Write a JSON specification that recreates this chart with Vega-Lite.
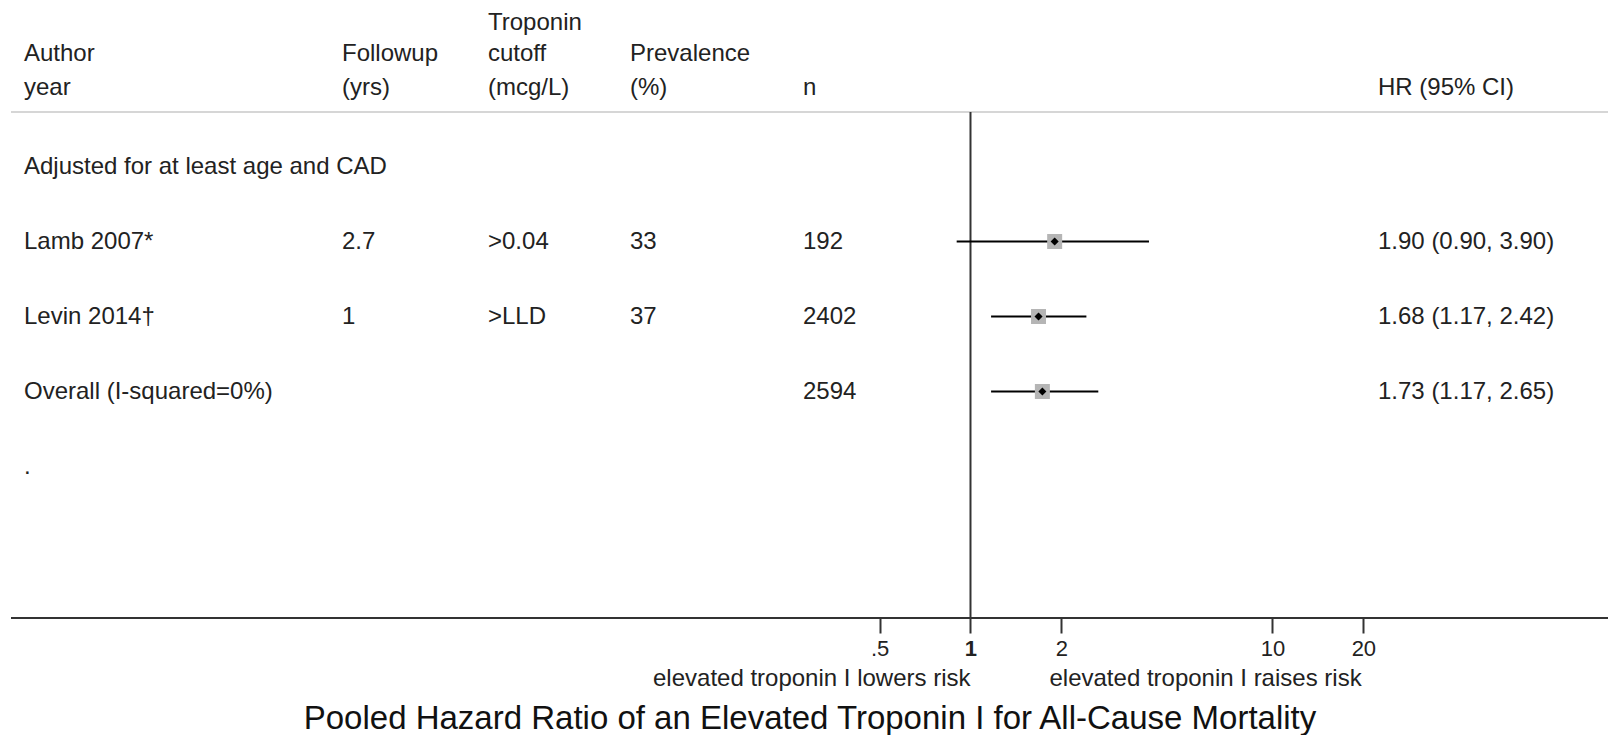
{
  "$schema": "https://vega.github.io/schema/vega-lite/v6.json",
  "padding": {"left": 10, "top": 0, "right": 0, "bottom": 0},
  "background": "white",
  "bounds": "flush",
  "spacing": 0,
  "config": {"view": {"stroke": null}, "font": "Liberation Sans"},
  "title": {"text": "Pooled Hazard Ratio of an Elevated Troponin I for All-Cause Mortality", "orient": "bottom", "anchor": "middle", "fontSize": 33, "fontWeight": "normal", "color": "#111", "offset": 12},
  "datasets": {
    "rows": [
      {"row": 0, "author": "Adjusted for at least age and CAD"},
      {"row": 1, "author": "Lamb 2007*", "followup": "2.7", "cutoff": ">0.04", "prevalence": "33", "n": "192", "hr": 1.90, "lo": 0.90, "hi": 3.90, "hrText": "1.90 (0.90, 3.90)"},
      {"row": 2, "author": "Levin 2014†", "followup": "1", "cutoff": ">LLD", "prevalence": "37", "n": "2402", "hr": 1.68, "lo": 1.17, "hi": 2.42, "hrText": "1.68 (1.17, 2.42)"},
      {"row": 3, "author": "Overall (I-squared=0%)", "n": "2594", "hr": 1.73, "lo": 1.17, "hi": 2.65, "hrText": "1.73 (1.17, 2.65)"},
      {"row": 4, "author": "."}
    ],
    "headers": [
      {"col": "author", "l2": "Author", "l3": "year"},
      {"col": "followup", "l2": "Followup", "l3": "(yrs)"},
      {"col": "cutoff", "l1": "Troponin", "l2": "cutoff", "l3": "(mcg/L)"},
      {"col": "prevalence", "l2": "Prevalence", "l3": "(%)"},
      {"col": "n", "l3": "n"},
      {"col": "hrText", "l3": "HR (95% CI)"}
    ],
    "notes": [
      {"side": "lowers", "text": "elevated troponin I lowers risk"},
      {"side": "raises", "text": "elevated troponin I raises risk"}
    ],
    "one": [{}]
  },
  "hconcat": [
    {
      "width": 331, "height": 618,
      "layer": [
        {"data": {"name": "headers"}, "transform": [{"filter": "datum.col === 'author' && datum.l2 != null"}],
         "mark": {"type": "text", "align": "left", "baseline": "middle", "dx": 13, "fontSize": 24, "color": "#222"},
         "encoding": {"text": {"field": "l2"}, "x": {"datum": 0, "type": "quantitative", "scale": {"domain": [0, 1]}, "axis": null}, "y": {"datum": -1.495, "type": "quantitative", "scale": {"domain": [-2.22, 6.02], "reverse": true, "nice": false, "zero": false}, "axis": null}}},
        {"data": {"name": "headers"}, "transform": [{"filter": "datum.col === 'author' && datum.l3 != null"}],
         "mark": {"type": "text", "align": "left", "baseline": "middle", "dx": 13, "fontSize": 24, "color": "#222"},
         "encoding": {"text": {"field": "l3"}, "x": {"datum": 0, "type": "quantitative", "scale": {"domain": [0, 1]}, "axis": null}, "y": {"datum": -1.044, "type": "quantitative", "scale": {"domain": [-2.22, 6.02], "reverse": true, "nice": false, "zero": false}, "axis": null}}},
        {"data": {"name": "rows"}, "transform": [{"filter": "datum.author != null"}],
         "mark": {"type": "text", "align": "left", "baseline": "middle", "dx": 13, "fontSize": 24, "color": "#222"},
         "encoding": {"text": {"field": "author"}, "x": {"datum": 0, "type": "quantitative", "scale": {"domain": [0, 1]}, "axis": null}, "y": {"field": "row", "type": "quantitative", "scale": {"domain": [-2.22, 6.02], "reverse": true, "nice": false, "zero": false}, "axis": null}}},
        {"data": {"name": "one"}, "mark": {"type": "rule", "color": "#d6d6d6", "strokeWidth": 2}, "encoding": {"y": {"datum": -0.7267, "type": "quantitative", "scale": {"domain": [-2.22, 6.02], "reverse": true, "nice": false, "zero": false}, "axis": null}}},
        {"data": {"name": "one"}, "mark": {"type": "rule", "color": "#333", "strokeWidth": 2}, "encoding": {"y": {"datum": 6.02, "type": "quantitative", "scale": {"domain": [-2.22, 6.02], "reverse": true, "nice": false, "zero": false}, "axis": null}}}
      ]
    },
    {
      "width": 146, "height": 618,
      "layer": [
        {"data": {"name": "headers"}, "transform": [{"filter": "datum.col === 'followup' && datum.l2 != null"}],
         "mark": {"type": "text", "align": "left", "baseline": "middle", "fontSize": 24, "color": "#222"},
         "encoding": {"text": {"field": "l2"}, "x": {"datum": 0, "type": "quantitative", "scale": {"domain": [0, 1]}, "axis": null}, "y": {"datum": -1.495, "type": "quantitative", "scale": {"domain": [-2.22, 6.02], "reverse": true, "nice": false, "zero": false}, "axis": null}}},
        {"data": {"name": "headers"}, "transform": [{"filter": "datum.col === 'followup' && datum.l3 != null"}],
         "mark": {"type": "text", "align": "left", "baseline": "middle", "fontSize": 24, "color": "#222"},
         "encoding": {"text": {"field": "l3"}, "x": {"datum": 0, "type": "quantitative", "scale": {"domain": [0, 1]}, "axis": null}, "y": {"datum": -1.044, "type": "quantitative", "scale": {"domain": [-2.22, 6.02], "reverse": true, "nice": false, "zero": false}, "axis": null}}},
        {"data": {"name": "rows"}, "transform": [{"filter": "datum.followup != null"}],
         "mark": {"type": "text", "align": "left", "baseline": "middle", "fontSize": 24, "color": "#222"},
         "encoding": {"text": {"field": "followup"}, "x": {"datum": 0, "type": "quantitative", "scale": {"domain": [0, 1]}, "axis": null}, "y": {"field": "row", "type": "quantitative", "scale": {"domain": [-2.22, 6.02], "reverse": true, "nice": false, "zero": false}, "axis": null}}},
        {"data": {"name": "one"}, "mark": {"type": "rule", "color": "#d6d6d6", "strokeWidth": 2}, "encoding": {"y": {"datum": -0.7267, "type": "quantitative", "scale": {"domain": [-2.22, 6.02], "reverse": true, "nice": false, "zero": false}, "axis": null}}},
        {"data": {"name": "one"}, "mark": {"type": "rule", "color": "#333", "strokeWidth": 2}, "encoding": {"y": {"datum": 6.02, "type": "quantitative", "scale": {"domain": [-2.22, 6.02], "reverse": true, "nice": false, "zero": false}, "axis": null}}}
      ]
    },
    {
      "width": 142, "height": 618,
      "layer": [
        {"data": {"name": "headers"}, "transform": [{"filter": "datum.col === 'cutoff' && datum.l1 != null"}],
         "mark": {"type": "text", "align": "left", "baseline": "middle", "fontSize": 24, "color": "#222"},
         "encoding": {"text": {"field": "l1"}, "x": {"datum": 0, "type": "quantitative", "scale": {"domain": [0, 1]}, "axis": null}, "y": {"datum": -1.913, "type": "quantitative", "scale": {"domain": [-2.22, 6.02], "reverse": true, "nice": false, "zero": false}, "axis": null}}},
        {"data": {"name": "headers"}, "transform": [{"filter": "datum.col === 'cutoff' && datum.l2 != null"}],
         "mark": {"type": "text", "align": "left", "baseline": "middle", "fontSize": 24, "color": "#222"},
         "encoding": {"text": {"field": "l2"}, "x": {"datum": 0, "type": "quantitative", "scale": {"domain": [0, 1]}, "axis": null}, "y": {"datum": -1.495, "type": "quantitative", "scale": {"domain": [-2.22, 6.02], "reverse": true, "nice": false, "zero": false}, "axis": null}}},
        {"data": {"name": "headers"}, "transform": [{"filter": "datum.col === 'cutoff' && datum.l3 != null"}],
         "mark": {"type": "text", "align": "left", "baseline": "middle", "fontSize": 24, "color": "#222"},
         "encoding": {"text": {"field": "l3"}, "x": {"datum": 0, "type": "quantitative", "scale": {"domain": [0, 1]}, "axis": null}, "y": {"datum": -1.044, "type": "quantitative", "scale": {"domain": [-2.22, 6.02], "reverse": true, "nice": false, "zero": false}, "axis": null}}},
        {"data": {"name": "rows"}, "transform": [{"filter": "datum.cutoff != null"}],
         "mark": {"type": "text", "align": "left", "baseline": "middle", "fontSize": 24, "color": "#222"},
         "encoding": {"text": {"field": "cutoff"}, "x": {"datum": 0, "type": "quantitative", "scale": {"domain": [0, 1]}, "axis": null}, "y": {"field": "row", "type": "quantitative", "scale": {"domain": [-2.22, 6.02], "reverse": true, "nice": false, "zero": false}, "axis": null}}},
        {"data": {"name": "one"}, "mark": {"type": "rule", "color": "#d6d6d6", "strokeWidth": 2}, "encoding": {"y": {"datum": -0.7267, "type": "quantitative", "scale": {"domain": [-2.22, 6.02], "reverse": true, "nice": false, "zero": false}, "axis": null}}},
        {"data": {"name": "one"}, "mark": {"type": "rule", "color": "#333", "strokeWidth": 2}, "encoding": {"y": {"datum": 6.02, "type": "quantitative", "scale": {"domain": [-2.22, 6.02], "reverse": true, "nice": false, "zero": false}, "axis": null}}}
      ]
    },
    {
      "width": 173, "height": 618,
      "layer": [
        {"data": {"name": "headers"}, "transform": [{"filter": "datum.col === 'prevalence' && datum.l2 != null"}],
         "mark": {"type": "text", "align": "left", "baseline": "middle", "fontSize": 24, "color": "#222"},
         "encoding": {"text": {"field": "l2"}, "x": {"datum": 0, "type": "quantitative", "scale": {"domain": [0, 1]}, "axis": null}, "y": {"datum": -1.495, "type": "quantitative", "scale": {"domain": [-2.22, 6.02], "reverse": true, "nice": false, "zero": false}, "axis": null}}},
        {"data": {"name": "headers"}, "transform": [{"filter": "datum.col === 'prevalence' && datum.l3 != null"}],
         "mark": {"type": "text", "align": "left", "baseline": "middle", "fontSize": 24, "color": "#222"},
         "encoding": {"text": {"field": "l3"}, "x": {"datum": 0, "type": "quantitative", "scale": {"domain": [0, 1]}, "axis": null}, "y": {"datum": -1.044, "type": "quantitative", "scale": {"domain": [-2.22, 6.02], "reverse": true, "nice": false, "zero": false}, "axis": null}}},
        {"data": {"name": "rows"}, "transform": [{"filter": "datum.prevalence != null"}],
         "mark": {"type": "text", "align": "left", "baseline": "middle", "fontSize": 24, "color": "#222"},
         "encoding": {"text": {"field": "prevalence"}, "x": {"datum": 0, "type": "quantitative", "scale": {"domain": [0, 1]}, "axis": null}, "y": {"field": "row", "type": "quantitative", "scale": {"domain": [-2.22, 6.02], "reverse": true, "nice": false, "zero": false}, "axis": null}}},
        {"data": {"name": "one"}, "mark": {"type": "rule", "color": "#d6d6d6", "strokeWidth": 2}, "encoding": {"y": {"datum": -0.7267, "type": "quantitative", "scale": {"domain": [-2.22, 6.02], "reverse": true, "nice": false, "zero": false}, "axis": null}}},
        {"data": {"name": "one"}, "mark": {"type": "rule", "color": "#333", "strokeWidth": 2}, "encoding": {"y": {"datum": 6.02, "type": "quantitative", "scale": {"domain": [-2.22, 6.02], "reverse": true, "nice": false, "zero": false}, "axis": null}}}
      ]
    },
    {
      "width": 60, "height": 618,
      "layer": [
        {"data": {"name": "headers"}, "transform": [{"filter": "datum.col === 'n' && datum.l3 != null"}],
         "mark": {"type": "text", "align": "left", "baseline": "middle", "fontSize": 24, "color": "#222"},
         "encoding": {"text": {"field": "l3"}, "x": {"datum": 0, "type": "quantitative", "scale": {"domain": [0, 1]}, "axis": null}, "y": {"datum": -1.044, "type": "quantitative", "scale": {"domain": [-2.22, 6.02], "reverse": true, "nice": false, "zero": false}, "axis": null}}},
        {"data": {"name": "rows"}, "transform": [{"filter": "datum.n != null"}],
         "mark": {"type": "text", "align": "left", "baseline": "middle", "fontSize": 24, "color": "#222"},
         "encoding": {"text": {"field": "n"}, "x": {"datum": 0, "type": "quantitative", "scale": {"domain": [0, 1]}, "axis": null}, "y": {"field": "row", "type": "quantitative", "scale": {"domain": [-2.22, 6.02], "reverse": true, "nice": false, "zero": false}, "axis": null}}},
        {"data": {"name": "one"}, "mark": {"type": "rule", "color": "#d6d6d6", "strokeWidth": 2}, "encoding": {"y": {"datum": -0.7267, "type": "quantitative", "scale": {"domain": [-2.22, 6.02], "reverse": true, "nice": false, "zero": false}, "axis": null}}},
        {"data": {"name": "one"}, "mark": {"type": "rule", "color": "#333", "strokeWidth": 2}, "encoding": {"y": {"datum": 6.02, "type": "quantitative", "scale": {"domain": [-2.22, 6.02], "reverse": true, "nice": false, "zero": false}, "axis": null}}}
      ]
    },
    {
      "width": 515, "height": 618,
      "layer": [
        {"data": {"name": "one"}, "mark": {"type": "rule", "color": "#d6d6d6", "strokeWidth": 2}, "encoding": {"y": {"datum": -0.7267, "type": "quantitative", "scale": {"domain": [-2.22, 6.02], "reverse": true, "nice": false, "zero": false}, "axis": null}}},
        {"data": {"name": "one"}, "mark": {"type": "rule", "color": "#333", "strokeWidth": 2}, "encoding": {"y": {"datum": 6.02, "type": "quantitative", "scale": {"domain": [-2.22, 6.02], "reverse": true, "nice": false, "zero": false}, "axis": null}}},
        {"data": {"name": "one"}, "mark": {"type": "rule", "color": "#333", "strokeWidth": 2},
         "encoding": {
           "x": {"datum": 1, "type": "quantitative", "scale": {"type": "log", "domain": [0.4406, 22.36], "nice": false},
                 "axis": {"values": [0.5, 1, 2, 10, 20], "labelExpr": "datum.value == 0.5 ? '.5' : format(datum.value, 'd')", "title": null, "grid": false, "domain": false, "tickColor": "#333", "tickWidth": 2, "tickSize": 15, "labelFontSize": 22, "labelColor": "#222", "labelPadding": 5, "labelFontWeight": {"condition": {"test": "datum.value == 1", "value": "bold"}, "value": "normal"}, "labelFlush": false, "labelOverlap": false}},
           "y": {"datum": -0.7267, "type": "quantitative", "scale": {"domain": [-2.22, 6.02], "reverse": true, "nice": false, "zero": false}, "axis": null},
           "y2": {"datum": 6.02}
         }},
        {"data": {"name": "rows"}, "transform": [{"filter": "datum.hr != null"}],
         "mark": {"type": "rule", "color": "#000", "strokeWidth": 2},
         "encoding": {
           "x": {"field": "lo", "type": "quantitative", "scale": {"type": "log", "domain": [0.4406, 22.36], "nice": false}, "axis": {"values": [0.5, 1, 2, 10, 20], "labelExpr": "datum.value == 0.5 ? '.5' : format(datum.value, 'd')", "title": null, "grid": false, "domain": false, "tickColor": "#333", "tickWidth": 2, "tickSize": 15, "labelFontSize": 22, "labelColor": "#222", "labelPadding": 5, "labelFontWeight": {"condition": {"test": "datum.value == 1", "value": "bold"}, "value": "normal"}, "labelFlush": false, "labelOverlap": false}},
           "x2": {"field": "hi"},
           "y": {"field": "row", "type": "quantitative", "scale": {"domain": [-2.22, 6.02], "reverse": true, "nice": false, "zero": false}, "axis": null}
         }},
        {"data": {"name": "rows"}, "transform": [{"filter": "datum.hr != null"}],
         "mark": {"type": "point", "shape": "square", "filled": true, "size": 225, "color": "#b5b5b5", "opacity": 1},
         "encoding": {
           "x": {"field": "hr", "type": "quantitative", "scale": {"type": "log", "domain": [0.4406, 22.36], "nice": false}, "axis": {"values": [0.5, 1, 2, 10, 20], "labelExpr": "datum.value == 0.5 ? '.5' : format(datum.value, 'd')", "title": null, "grid": false, "domain": false, "tickColor": "#333", "tickWidth": 2, "tickSize": 15, "labelFontSize": 22, "labelColor": "#222", "labelPadding": 5, "labelFontWeight": {"condition": {"test": "datum.value == 1", "value": "bold"}, "value": "normal"}, "labelFlush": false, "labelOverlap": false}},
           "y": {"field": "row", "type": "quantitative", "scale": {"domain": [-2.22, 6.02], "reverse": true, "nice": false, "zero": false}, "axis": null}
         }},
        {"data": {"name": "rows"}, "transform": [{"filter": "datum.hr != null"}],
         "mark": {"type": "point", "shape": "diamond", "filled": true, "size": 65, "color": "#000", "opacity": 1},
         "encoding": {
           "x": {"field": "hr", "type": "quantitative", "scale": {"type": "log", "domain": [0.4406, 22.36], "nice": false}, "axis": {"values": [0.5, 1, 2, 10, 20], "labelExpr": "datum.value == 0.5 ? '.5' : format(datum.value, 'd')", "title": null, "grid": false, "domain": false, "tickColor": "#333", "tickWidth": 2, "tickSize": 15, "labelFontSize": 22, "labelColor": "#222", "labelPadding": 5, "labelFontWeight": {"condition": {"test": "datum.value == 1", "value": "bold"}, "value": "normal"}, "labelFlush": false, "labelOverlap": false}},
           "y": {"field": "row", "type": "quantitative", "scale": {"domain": [-2.22, 6.02], "reverse": true, "nice": false, "zero": false}, "axis": null}
         }},
        {"data": {"name": "notes"}, "transform": [{"filter": "datum.side === 'lowers'"}],
         "mark": {"type": "text", "align": "right", "baseline": "middle", "fontSize": 24, "color": "#222"},
         "encoding": {
           "text": {"field": "text"},
           "x": {"datum": 1, "type": "quantitative", "scale": {"type": "log", "domain": [0.4406, 22.36], "nice": false}, "axis": {"values": [0.5, 1, 2, 10, 20], "labelExpr": "datum.value == 0.5 ? '.5' : format(datum.value, 'd')", "title": null, "grid": false, "domain": false, "tickColor": "#333", "tickWidth": 2, "tickSize": 15, "labelFontSize": 22, "labelColor": "#222", "labelPadding": 5, "labelFontWeight": {"condition": {"test": "datum.value == 1", "value": "bold"}, "value": "normal"}, "labelFlush": false, "labelOverlap": false}},
           "y": {"datum": 6.833, "type": "quantitative", "scale": {"domain": [-2.22, 6.02], "reverse": true, "nice": false, "zero": false}, "axis": null}
         }},
        {"data": {"name": "notes"}, "transform": [{"filter": "datum.side === 'raises'"}],
         "mark": {"type": "text", "align": "left", "baseline": "middle", "fontSize": 24, "color": "#222", "dx": 79},
         "encoding": {
           "text": {"field": "text"},
           "x": {"datum": 1, "type": "quantitative", "scale": {"type": "log", "domain": [0.4406, 22.36], "nice": false}, "axis": {"values": [0.5, 1, 2, 10, 20], "labelExpr": "datum.value == 0.5 ? '.5' : format(datum.value, 'd')", "title": null, "grid": false, "domain": false, "tickColor": "#333", "tickWidth": 2, "tickSize": 15, "labelFontSize": 22, "labelColor": "#222", "labelPadding": 5, "labelFontWeight": {"condition": {"test": "datum.value == 1", "value": "bold"}, "value": "normal"}, "labelFlush": false, "labelOverlap": false}},
           "y": {"datum": 6.833, "type": "quantitative", "scale": {"domain": [-2.22, 6.02], "reverse": true, "nice": false, "zero": false}, "axis": null}
         }}
      ]
    },
    {
      "width": 231, "height": 618,
      "layer": [
        {"data": {"name": "headers"}, "transform": [{"filter": "datum.col === 'hrText' && datum.l3 != null"}],
         "mark": {"type": "text", "align": "left", "baseline": "middle", "fontSize": 24, "color": "#222"},
         "encoding": {"text": {"field": "l3"}, "x": {"datum": 0, "type": "quantitative", "scale": {"domain": [0, 1]}, "axis": null}, "y": {"datum": -1.044, "type": "quantitative", "scale": {"domain": [-2.22, 6.02], "reverse": true, "nice": false, "zero": false}, "axis": null}}},
        {"data": {"name": "rows"}, "transform": [{"filter": "datum.hrText != null"}],
         "mark": {"type": "text", "align": "left", "baseline": "middle", "fontSize": 24, "color": "#222"},
         "encoding": {"text": {"field": "hrText"}, "x": {"datum": 0, "type": "quantitative", "scale": {"domain": [0, 1]}, "axis": null}, "y": {"field": "row", "type": "quantitative", "scale": {"domain": [-2.22, 6.02], "reverse": true, "nice": false, "zero": false}, "axis": null}}},
        {"data": {"name": "one"}, "mark": {"type": "rule", "color": "#d6d6d6", "strokeWidth": 2}, "encoding": {"y": {"datum": -0.7267, "type": "quantitative", "scale": {"domain": [-2.22, 6.02], "reverse": true, "nice": false, "zero": false}, "axis": null}}},
        {"data": {"name": "one"}, "mark": {"type": "rule", "color": "#333", "strokeWidth": 2}, "encoding": {"y": {"datum": 6.02, "type": "quantitative", "scale": {"domain": [-2.22, 6.02], "reverse": true, "nice": false, "zero": false}, "axis": null}}}
      ]
    }
  ]
}
